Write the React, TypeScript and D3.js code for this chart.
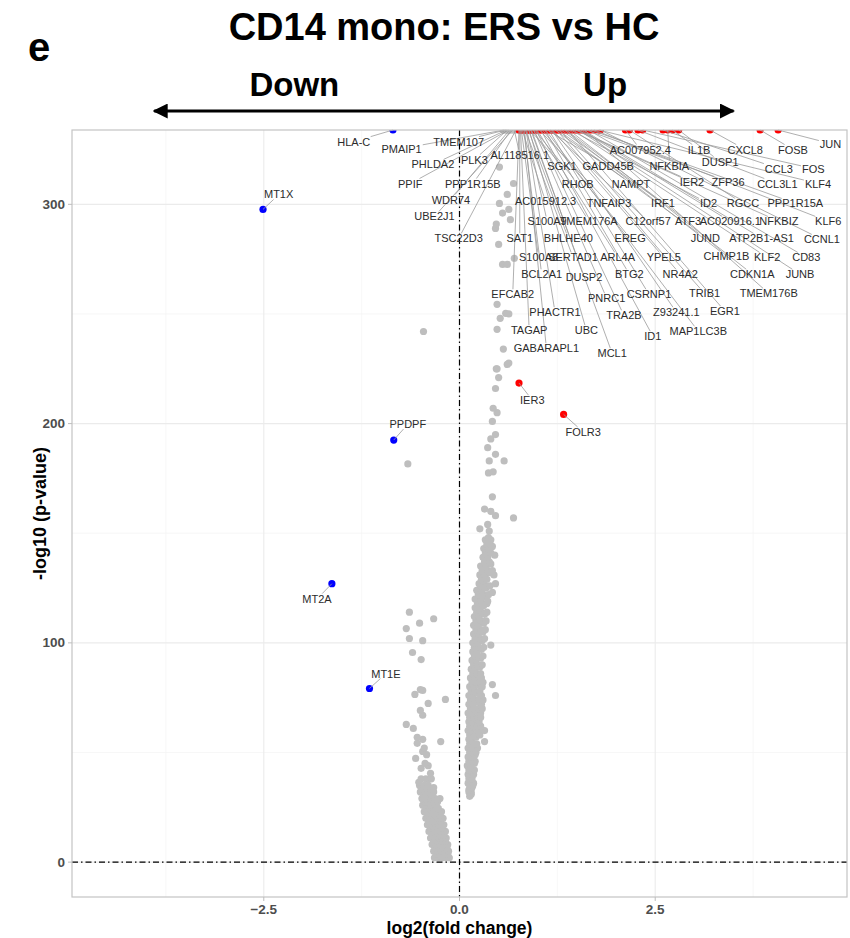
import React, { useRef, useEffect } from 'react';
import * as d3 from 'd3';

// [log2 fold change, -log10 p] of the non-significant genes
const grayLeft: [number, number][] = [
  [-0.32, 2], [-0.27, 2], [-0.22, 2], [-0.17, 2], [-0.13, 2],
  [-0.3, 3.5], [-0.25, 3.5], [-0.2, 3.5], [-0.15, 3.5],
  [-0.33, 5], [-0.28, 5], [-0.23, 5], [-0.18, 5], [-0.14, 5],
  [-0.31, 6.5], [-0.26, 6.5], [-0.21, 6.5], [-0.16, 6.5],
  [-0.35, 8], [-0.3, 8], [-0.25, 8], [-0.2, 8], [-0.15, 8],
  [-0.33, 9.5], [-0.28, 9.5], [-0.23, 9.5], [-0.18, 9.5],
  [-0.37, 11], [-0.32, 11], [-0.27, 11], [-0.22, 11], [-0.17, 11],
  [-0.35, 12.5], [-0.3, 12.5], [-0.25, 12.5], [-0.2, 12.5],
  [-0.39, 14], [-0.34, 14], [-0.29, 14], [-0.24, 14], [-0.18, 14],
  [-0.37, 15.5], [-0.32, 15.5], [-0.27, 15.5], [-0.22, 15.5],
  [-0.41, 17], [-0.36, 17], [-0.31, 17], [-0.26, 17], [-0.2, 17],
  [-0.39, 18.5], [-0.34, 18.5], [-0.29, 18.5], [-0.24, 18.5],
  [-0.43, 20], [-0.38, 20], [-0.33, 20], [-0.27, 20], [-0.21, 20],
  [-0.41, 21.5], [-0.36, 21.5], [-0.31, 21.5], [-0.25, 21.5],
  [-0.45, 23], [-0.4, 23], [-0.35, 23], [-0.29, 23], [-0.23, 23],
  [-0.43, 24.5], [-0.38, 24.5], [-0.33, 24.5], [-0.27, 24.5],
  [-0.47, 26], [-0.42, 26], [-0.36, 26], [-0.3, 26],
  [-0.45, 27.5], [-0.4, 27.5], [-0.34, 27.5], [-0.28, 27.5],
  [-0.48, 29], [-0.43, 29], [-0.37, 29], [-0.31, 29], [-0.25, 29],
  [-0.46, 30.5], [-0.41, 30.5], [-0.35, 30.5],
  [-0.5, 32], [-0.44, 32], [-0.38, 32], [-0.33, 32],
  [-0.48, 33.5], [-0.42, 33.5], [-0.37, 33.5],
  [-0.51, 35], [-0.45, 35], [-0.4, 35], [-0.33, 34],
  [-0.49, 38], [-0.43, 38], [-0.38, 38], [-0.36, 38],
  [-0.52, 36.4], [-0.37, 40.5], [-0.49, 42.8], [-0.4, 44], [-0.44, 45],
  [-0.56, 47.3], [-0.42, 49], [-0.47, 50.5], [-0.45, 52], [-0.54, 54.2],
  [-0.24, 55], [-0.47, 56], [-0.54, 56.9], [-0.59, 61], [-0.68, 62.8],
  [-0.47, 67], [-0.5, 69.2], [-0.4, 72.4], [-0.18, 74.2], [-0.57, 76.5],
  [-0.47, 78.3], [-0.5, 78.7], [-0.49, 92.4], [-0.6, 95.6], [-0.47, 101],
  [-0.64, 102], [-0.68, 106.5], [-0.51, 109], [-0.33, 111], [-0.64, 114],
  [-0.66, 181.6], [-0.46, 242],
];

const grayRight: [number, number][] = [
  [0.13, 30], [0.15, 31], [0.12, 32], [0.15, 32], [0.12, 33], [0.16, 34],
  [0.13, 35], [0.17, 35], [0.11, 36], [0.15, 37], [0.18, 36],
  [0.12, 38], [0.16, 38],
  [0.11, 40], [0.14, 41], [0.18, 40],
  [0.12, 42], [0.16, 42], [0.19, 42],
  [0.1, 44], [0.14, 44], [0.19, 45],
  [0.12, 46], [0.16, 46], [0.2, 46],
  [0.11, 48], [0.15, 48], [0.2, 49],
  [0.13, 50], [0.17, 50], [0.21, 50],
  [0.11, 52], [0.15, 52], [0.2, 53], [0.23, 52],
  [0.13, 54], [0.18, 54], [0.22, 54],
  [0.12, 56], [0.16, 56], [0.21, 57], [0.32, 55],
  [0.13, 58], [0.18, 58], [0.22, 58], [0.26, 58],
  [0.11, 60], [0.15, 60], [0.2, 61], [0.24, 60], [0.32, 60],
  [0.13, 62], [0.18, 62], [0.22, 62], [0.27, 62],
  [0.12, 64], [0.16, 64], [0.21, 65], [0.25, 64],
  [0.13, 66], [0.18, 66], [0.23, 66], [0.27, 66],
  [0.11, 68], [0.16, 68], [0.21, 69], [0.27, 68],
  [0.14, 70], [0.19, 70], [0.24, 70], [0.29, 70],
  [0.12, 72], [0.17, 72], [0.22, 73], [0.28, 72],
  [0.14, 74], [0.19, 74], [0.25, 74], [0.3, 74],
  [0.12, 76], [0.17, 76], [0.23, 77], [0.28, 76], [0.46, 76],
  [0.15, 78], [0.2, 78], [0.26, 78],
  [0.13, 80], [0.18, 80], [0.23, 81], [0.29, 80], [0.42, 81],
  [0.16, 82], [0.21, 82], [0.26, 82], [0.3, 82],
  [0.14, 84], [0.19, 84], [0.24, 85], [0.28, 84],
  [0.17, 86], [0.22, 86], [0.27, 86],
  [0.15, 88], [0.2, 88], [0.26, 89],
  [0.18, 90], [0.23, 90], [0.29, 90],
  [0.16, 92], [0.21, 92], [0.27, 93],
  [0.19, 94], [0.24, 94], [0.3, 94],
  [0.17, 96], [0.22, 96], [0.28, 97],
  [0.19, 98], [0.25, 98], [0.31, 98],
  [0.17, 100], [0.23, 100], [0.29, 101], [0.4, 99],
  [0.2, 102], [0.26, 102], [0.32, 102],
  [0.18, 104], [0.24, 104], [0.3, 105],
  [0.21, 106], [0.27, 106], [0.33, 106],
  [0.18, 108], [0.24, 108], [0.31, 109],
  [0.21, 110], [0.28, 110], [0.34, 110],
  [0.19, 112], [0.25, 112], [0.32, 113],
  [0.22, 114], [0.28, 114], [0.35, 114],
  [0.2, 116], [0.26, 116], [0.31, 117],
  [0.23, 118], [0.29, 118], [0.35, 118],
  [0.2, 120], [0.27, 120], [0.33, 121], [0.36, 119],
  [0.24, 122], [0.31, 122], [0.37, 122],
  [0.22, 124], [0.28, 124], [0.34, 125], [0.42, 123],
  [0.27, 126], [0.33, 126], [0.39, 126],
  [0.25, 127], [0.3, 128], [0.46, 127],
  [0.28, 129], [0.35, 129],
  [0.26, 131], [0.32, 131], [0.38, 132], [0.44, 131],
  [0.29, 133], [0.36, 133], [0.42, 133],
  [0.27, 135], [0.34, 135], [0.4, 136],
  [0.32, 137], [0.38, 137],
  [0.3, 139], [0.36, 139], [0.45, 140],
  [0.33, 141], [0.4, 141],
  [0.31, 143], [0.37, 143], [0.42, 144],
  [0.35, 145], [0.39, 145],
  [0.33, 147], [0.4, 147],
];

const grayUpper: [number, number][] = [
  [0.37, 148], [0.38, 151], [0.26, 152], [0.36, 154], [0.69, 157], [0.46, 158],
  [0.4, 160], [0.32, 161], [0.42, 166.6], [0.37, 177.5], [0.43, 178], [0.57, 183],
  [0.38, 183], [0.46, 186], [0.36, 189], [0.4, 193], [0.46, 195], [0.42, 201],
  [0.48, 205], [0.43, 207], [0.46, 216], [0.5, 221], [0.47, 225], [0.48, 225],
  [0.61, 227], [0.63, 227.6], [0.56, 234], [0.48, 243], [0.52, 248], [0.63, 250],
  [0.59, 250.3], [0.48, 254.4], [0.55, 272.6], [0.61, 272.6], [0.7, 275.4], [0.5, 281.7],
  [0.46, 289], [0.47, 291], [0.65, 293], [0.55, 296], [0.63, 297.7], [0.51, 300.4],
  [0.61, 304.5], [0.69, 309.5], [0.51, 317],
];

// genes with p = 0 (-log10 p = Inf), drawn at the top edge
const grayTopUnlabelled = [0.56, 0.74];
const grayTopGenes: [string, number][] = [
  ['PMAIP1', 0.57], ['TMEM107', 0.59], ['PLK3', 0.61], ['PHLDA2', 0.6],
  ['PPIF', 0.63], ['PPP1R15B', 0.66], ['WDR74', 0.64], ['UBE2J1', 0.68],
  ['TSC22D3', 0.72], ['AL118516.1', 0.7],
];
const redTopGenes: [string, number][] = [
  ['SGK1', 0.9], ['GADD45B', 1.12], ['NFKBIA', 2.66], ['AC007952.4', 2.12],
  ['IL1B', 2.72], ['CXCL8', 3.2], ['FOSB', 3.84], ['JUN', 4.07],
  ['DUSP1', 2.8], ['CCL3', 2.6], ['FOS', 2.34], ['RHOB', 0.96],
  ['NAMPT', 1.22], ['IER2', 1.5], ['ZFP36', 1.62], ['CCL3L1', 2.28],
  ['KLF4', 1.78], ['AC015912.3', 0.8], ['TNFAIP3', 1.02], ['IRF1', 1.3],
  ['ID2', 1.42], ['RGCC', 2.17], ['PPP1R15A', 1.68], ['S100A9', 0.86],
  ['TMEM176A', 0.94], ['C12orf57', 1.16], ['ATF3', 1.36], ['AC020916.1', 1.55],
  ['NFKBIZ', 1.48], ['KLF6', 1.72], ['SAT1', 0.77], ['BHLHE40', 0.88],
  ['EREG', 1.06], ['JUND', 1.26], ['ATP2B1-AS1', 1.58], ['CCNL1', 1.8],
  ['S100A8', 0.79], ['SERTAD1', 0.84], ['ARL4A', 0.99], ['YPEL5', 1.19],
  ['CHMP1B', 1.34], ['KLF2', 1.45], ['CD83', 1.65], ['BCL2A1', 0.82],
  ['DUSP2', 0.92], ['BTG2', 1.09], ['NR4A2', 1.24], ['CDKN1A', 1.4],
  ['JUNB', 1.52], ['EFCAB2', 0.76], ['PNRC1', 0.95], ['CSRNP1', 1.14],
  ['TRIB1', 1.28], ['TMEM176B', 1.6], ['PHACTR1', 0.85], ['TRA2B', 0.98],
  ['Z93241.1', 1.18], ['EGR1', 1.38], ['TAGAP', 0.78], ['UBC', 0.89],
  ['ID1', 1.04], ['MAP1LC3B', 1.1], ['GABARAPL1', 0.83], ['MCL1', 0.91],
];
const blueGenes: [string, number, number][] = [
  ['HLA-C', -0.85, Infinity], ['MT1X', -2.51, 297.7], ['PPDPF', -0.84, 192.5],
  ['MT2A', -1.63, 127], ['MT1E', -1.15, 79.2],
];
const redGenes: [string, number, number][] = [
  ['IER3', 0.76, 218.5], ['FOLR3', 1.33, 204.2],
];

// where the repelled labels ended up, in data units
const labelPos: Record<string, [number, number]> = {
  'HLA-C': [-1.35, 328.6], PMAIP1: [-0.74, 325.4], TMEM107: [-0.01, 328.6],
  PLK3: [0.19, 320.4], 'AL118516.1': [0.77, 322.7], PHLDA2: [-0.34, 318.2],
  PPIF: [-0.63, 309.5], PPP1R15B: [0.17, 309.5], WDR74: [-0.11, 302.2],
  UBE2J1: [-0.32, 294.5], TSC22D3: [-0.01, 284.5],
  SGK1: [1.31, 317.7], GADD45B: [1.9, 317.7], NFKBIA: [2.68, 317.7],
  'AC007952.4': [2.31, 325], IL1B: [3.06, 325], CXCL8: [3.65, 325],
  FOSB: [4.26, 325], JUN: [4.74, 327.7], DUSP1: [3.33, 319.5],
  CCL3: [4.08, 316.3], FOS: [4.52, 316.3], RHOB: [1.51, 309.5],
  NAMPT: [2.19, 309.5], IER2: [2.97, 310.4], ZFP36: [3.43, 310.4],
  CCL3L1: [4.06, 309.5], KLF4: [4.58, 309.5], 'AC015912.3': [1.1, 301.3],
  TNFAIP3: [1.91, 300.4], IRF1: [2.6, 300.4], ID2: [3.18, 300.4],
  RGCC: [3.62, 300.4], PPP1R15A: [4.29, 300.4], S100A9: [1.12, 292.2],
  TMEM176A: [1.65, 292.2], C12orf57: [2.41, 292.2], ATF3: [2.92, 292.2],
  'AC020916.1': [3.46, 292.2], NFKBIZ: [4.08, 292.2], KLF6: [4.71, 292.2],
  SAT1: [0.77, 284.5], BHLHE40: [1.39, 284.5], EREG: [2.18, 284.5],
  JUND: [3.14, 284.5], 'ATP2B1-AS1': [3.86, 284.5], CCNL1: [4.63, 284],
  S100A8: [1.01, 275.8], SERTAD1: [1.45, 275.8], ARL4A: [2.02, 275.8],
  YPEL5: [2.61, 275.8], CHMP1B: [3.41, 276.3], KLF2: [3.93, 275.8],
  CD83: [4.43, 275.8], BCL2A1: [1.05, 268.1], DUSP2: [1.59, 266.7],
  BTG2: [2.17, 268.1], NR4A2: [2.82, 268.1], CDKN1A: [3.74, 268.1],
  JUNB: [4.35, 268.1], EFCAB2: [0.68, 259], PNRC1: [1.88, 257.2],
  CSRNP1: [2.42, 259], TRIB1: [3.13, 259.4], TMEM176B: [3.95, 259.4],
  PHACTR1: [1.22, 250.8], TRA2B: [2.1, 249.4], 'Z93241.1': [2.77, 250.8],
  EGR1: [3.39, 251.3], TAGAP: [0.89, 242.6], UBC: [1.62, 242.6],
  ID1: [2.47, 239.9], MAP1LC3B: [3.05, 242.1], GABARAPL1: [1.11, 234.4],
  MCL1: [1.95, 232.1],
  MT1X: [-2.31, 304.5], PPDPF: [-0.66, 199.8], MT2A: [-1.82, 120.2],
  MT1E: [-0.94, 86], IER3: [0.93, 210.7], FOLR3: [1.58, 196.2],
};

const xMajor = [-2.5, 0, 2.5];
const xMinor = [-3.75, -1.25, 1.25, 3.75];
const yMajor = [0, 100, 200, 300];
const yMinor = [50, 150, 250];

const FONT = '"Liberation Sans", Arial, Helvetica, sans-serif';
const GRAY = '#BEBEBE';
const RED = '#FF0000';
const BLUE = '#0000FF';

function VolcanoPlot() {
  const svgRef = useRef<SVGSVGElement>(null);

  useEffect(() => {
    const svg = d3.select(svgRef.current);
    svg.selectAll('*').remove();

    const width = 850;
    const height = 938;
    const panel = { left: 72, right: 847, top: 130, bottom: 897 };

    const x = d3.scaleLinear().domain([-4.95, 4.95]).range([panel.left, panel.right]);
    const y = d3.scaleLinear().domain([-15.9, 333.9]).range([panel.bottom, panel.top]);
    const yPos = (v: number) => (Number.isFinite(v) ? y(v) : panel.top);

    svg.attr('width', width).attr('height', height);
    svg.append('rect').attr('width', width).attr('height', height).attr('fill', '#fff');

    svg.append('defs').append('clipPath').attr('id', 'panel-clip')
      .append('rect')
      .attr('x', panel.left).attr('y', panel.top)
      .attr('width', panel.right - panel.left).attr('height', panel.bottom - panel.top);

    // Grid
    const grid = svg.append('g');
    xMinor.forEach(v => grid.append('line')
      .attr('x1', x(v)).attr('x2', x(v)).attr('y1', panel.top).attr('y2', panel.bottom)
      .attr('stroke', '#f4f4f4').attr('stroke-width', 0.7));
    yMinor.forEach(v => grid.append('line')
      .attr('x1', panel.left).attr('x2', panel.right).attr('y1', y(v)).attr('y2', y(v))
      .attr('stroke', '#f4f4f4').attr('stroke-width', 0.7));
    xMajor.forEach(v => grid.append('line')
      .attr('x1', x(v)).attr('x2', x(v)).attr('y1', panel.top).attr('y2', panel.bottom)
      .attr('stroke', '#ebebeb').attr('stroke-width', 1.1));
    yMajor.forEach(v => grid.append('line')
      .attr('x1', panel.left).attr('x2', panel.right).attr('y1', y(v)).attr('y2', y(v))
      .attr('stroke', '#ebebeb').attr('stroke-width', 1.1));

    // Points
    const pts = svg.append('g').attr('clip-path', 'url(#panel-clip)');
    const dot = (fc: number, p: number, color: string) =>
      pts.append('circle').attr('cx', x(fc)).attr('cy', yPos(p)).attr('r', 3.6).attr('fill', color);

    [...grayLeft, ...grayRight, ...grayUpper].forEach(([fc, p]) => dot(fc, p, GRAY));
    grayTopUnlabelled.forEach(fc => dot(fc, Infinity, GRAY));
    grayTopGenes.forEach(([, fc]) => dot(fc, Infinity, GRAY));
    redTopGenes.forEach(([, fc]) => dot(fc, Infinity, RED));
    redGenes.forEach(([, fc, p]) => dot(fc, p, RED));
    blueGenes.forEach(([, fc, p]) => dot(fc, p, BLUE));

    // Reference lines (dot-dash)
    svg.append('line')
      .attr('x1', panel.left).attr('x2', panel.right).attr('y1', y(0)).attr('y2', y(0))
      .attr('stroke', '#000').attr('stroke-width', 1.2).attr('stroke-dasharray', '6,3,1.5,3');
    svg.append('line')
      .attr('x1', x(0)).attr('x2', x(0)).attr('y1', panel.top).attr('y2', panel.bottom)
      .attr('stroke', '#000').attr('stroke-width', 1.2).attr('stroke-dasharray', '6,3,1.5,3');

    // Labels with repel segments
    const labelled = [
      ...grayTopGenes.map(([g, fc]) => ({ g, fc, p: Infinity })),
      ...redTopGenes.map(([g, fc]) => ({ g, fc, p: Infinity })),
      ...blueGenes.map(([g, fc, p]) => ({ g, fc, p })),
      ...redGenes.map(([g, fc, p]) => ({ g, fc, p })),
    ];
    const segG = svg.append('g');
    const textG = svg.append('g');
    labelled.forEach(d => {
      const [lx, ly] = labelPos[d.g];
      const t = textG.append('text')
        .attr('x', x(lx)).attr('y', y(ly))
        .attr('text-anchor', 'middle').attr('dominant-baseline', 'central')
        .attr('font-family', FONT).attr('font-size', 11).attr('fill', '#2b2b2b')
        .text(d.g);
      const bb = (t.node() as SVGTextElement).getBBox();
      const cx = bb.x + bb.width / 2;
      const cy = bb.y + bb.height / 2;
      const px = x(d.fc);
      const py = yPos(d.p);
      const dx = px - cx;
      const dy = py - cy;
      let s = Infinity;
      if (dx !== 0) s = Math.min(s, (bb.width / 2 + 1) / Math.abs(dx));
      if (dy !== 0) s = Math.min(s, (bb.height / 2 - 1) / Math.abs(dy));
      if (s >= 1) return;
      const sx = cx + dx * s;
      const sy = cy + dy * s;
      if (Math.hypot(px - sx, py - sy) < 4) return;
      segG.append('line')
        .attr('x1', sx).attr('y1', sy).attr('x2', px).attr('y2', py)
        .attr('stroke', '#9a9a9a').attr('stroke-width', 0.8);
    });

    // Panel border
    svg.append('rect')
      .attr('x', panel.left).attr('y', panel.top)
      .attr('width', panel.right - panel.left).attr('height', panel.bottom - panel.top)
      .attr('fill', 'none').attr('stroke', '#c4c4c4').attr('stroke-width', 1.2);

    // Axes
    const axisColor = '#4d4d4d';
    xMajor.forEach(v => {
      svg.append('line').attr('x1', x(v)).attr('x2', x(v))
        .attr('y1', panel.bottom).attr('y2', panel.bottom + 4)
        .attr('stroke', '#bdbdbd').attr('stroke-width', 1);
      svg.append('text').attr('x', x(v)).attr('y', panel.bottom + 17)
        .attr('text-anchor', 'middle').attr('font-family', FONT).attr('font-size', 13.5)
        .attr('font-weight', 'bold').attr('fill', axisColor)
        .text(d3.format('.1f')(v));
    });
    yMajor.forEach(v => {
      svg.append('line').attr('x1', panel.left - 4).attr('x2', panel.left)
        .attr('y1', y(v)).attr('y2', y(v))
        .attr('stroke', '#bdbdbd').attr('stroke-width', 1);
      svg.append('text').attr('x', panel.left - 7).attr('y', y(v))
        .attr('text-anchor', 'end').attr('dominant-baseline', 'central')
        .attr('font-family', FONT).attr('font-size', 13.5)
        .attr('font-weight', 'bold').attr('fill', axisColor)
        .text(String(v));
    });

    svg.append('text')
      .attr('x', (panel.left + panel.right) / 2).attr('y', 934)
      .attr('text-anchor', 'middle').attr('font-family', FONT)
      .attr('font-size', 17.5).attr('font-weight', 'bold').attr('fill', '#000')
      .text('log2(fold change)');
    svg.append('text')
      .attr('transform', `translate(46,${(panel.top + panel.bottom) / 2}) rotate(-90)`)
      .attr('text-anchor', 'middle').attr('font-family', FONT)
      .attr('font-size', 18).attr('font-weight', 'bold').attr('fill', '#000')
      .text('-log10 (p-value)');

    // Title and direction arrow
    svg.append('text')
      .attr('x', 444).attr('y', 40)
      .attr('text-anchor', 'middle').attr('font-family', FONT)
      .attr('font-size', 38).attr('font-weight', 'bold').attr('fill', '#000')
      .text('CD14 mono: ERS vs HC');
    svg.append('text')
      .attr('x', 28).attr('y', 61)
      .attr('font-family', FONT).attr('font-size', 40).attr('font-weight', 'bold').attr('fill', '#000')
      .text('e');

    const arrowY = 111;
    const defs = svg.select('defs');
    defs.append('marker').attr('id', 'arrowhead').attr('viewBox', '0 0 10 10')
      .attr('refX', 9).attr('refY', 5).attr('markerWidth', 5).attr('markerHeight', 5)
      .attr('orient', 'auto-start-reverse')
      .append('path').attr('d', 'M0,0 L10,5 L0,10 Z').attr('fill', '#000');
    svg.append('line')
      .attr('x1', x(-3.9)).attr('x2', x(3.5)).attr('y1', arrowY).attr('y2', arrowY)
      .attr('stroke', '#000').attr('stroke-width', 3)
      .attr('marker-start', 'url(#arrowhead)').attr('marker-end', 'url(#arrowhead)');
    svg.append('text')
      .attr('x', x(-2.11)).attr('y', 96)
      .attr('text-anchor', 'middle').attr('font-family', FONT)
      .attr('font-size', 33).attr('font-weight', 'bold').attr('fill', '#000')
      .text('Down');
    svg.append('text')
      .attr('x', x(1.86)).attr('y', 96)
      .attr('text-anchor', 'middle').attr('font-family', FONT)
      .attr('font-size', 33).attr('font-weight', 'bold').attr('fill', '#000')
      .text('Up');
  }, []);

  return (
    <div style={{ position: 'absolute', left: 0, top: 0 }}>
      <svg ref={svgRef} style={{ display: 'block' }}></svg>
    </div>
  );
}

export default function App() {
  return <VolcanoPlot />;
}
